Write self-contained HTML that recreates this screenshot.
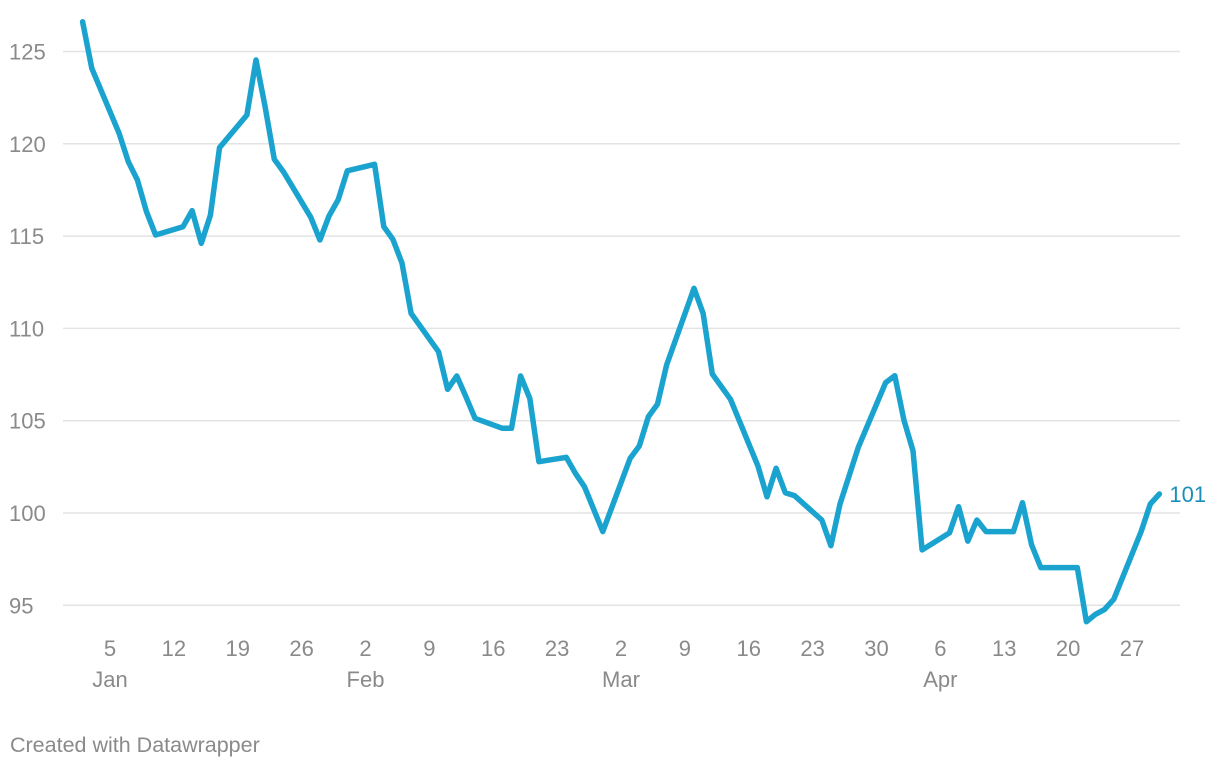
<!DOCTYPE html>
<html><head><meta charset="utf-8"><style>
body{margin:0;background:#fff;width:1220px;height:768px;overflow:hidden;font-family:"Liberation Sans",sans-serif}
svg{display:block}
</style></head><body>
<svg id="chart" width="1220" height="768" xmlns="http://www.w3.org/2000/svg">
<g id="grid"></g>
<g id="yaxis"></g>
<g id="xaxis"></g>
<g id="series"></g>
<text x="10" y="752" font-size="21.5" fill="#8a8a8a">Created with Datawrapper</text>
</svg>
<script>
// day index: days since Jan 1
const days = [1,2,5,6,7,8,9,12,13,14,15,16,19,20,21,22,23,26,27,28,29,30,33,34,35,36,37,40,41,42,43,44,47,48,49,50,51,54,55,56,58,61,62,63,64,65,68,69,70,72,75,76,77,78,79,82,83,84,86,89,90,91,92,93,96,97,98,99,100,103,104,105,106,110,111,112,113,114,117,118,119];
const values = [126.61,124.09,120.57,119.03,118.04,116.32,115.06,115.51,116.38,114.61,116.14,119.79,121.56,124.54,122.01,119.16,118.49,116.02,114.79,116.09,116.96,118.54,118.89,115.51,114.82,113.54,110.81,108.74,106.70,107.42,106.30,105.13,104.59,104.59,107.42,106.21,102.78,103.02,102.15,101.42,98.99,102.96,103.63,105.22,105.90,108.02,112.17,110.82,107.53,106.16,102.55,100.88,102.42,101.10,100.94,99.62,98.23,100.49,103.56,107.06,107.44,105.04,103.37,98.00,98.93,100.34,98.48,99.62,98.99,98.99,100.56,98.27,97.04,97.04,94.11,94.51,94.78,95.33,98.99,100.49,101.03];
const yTicks = [95,100,105,110,115,120,125];
const xTickDays = [4,11,18,25,32,39,46,53,60,67,74,81,88,95,102,109,116];
const xTickLabels = ["5","12","19","26","2","9","16","23","2","9","16","23","30","6","13","20","27"];
const monthDays = [4,32,60,95];
const monthLabels = ["Jan","Feb","Mar","Apr"];

const NS="http://www.w3.org/2000/svg";
const xs = d => 110 + (d-4)*9.125;
const ys = v => 513 - (v-100)*18.46;
function mk(tag, attrs, parent){const e=document.createElementNS(NS,tag);for(const k in attrs)e.setAttribute(k,attrs[k]);parent.appendChild(e);return e;}
const grid=document.getElementById('grid'), ya=document.getElementById('yaxis'), xa=document.getElementById('xaxis'), se=document.getElementById('series');
yTicks.forEach(t=>{
  const l=mk('line',{x1:63,x2:1180,y1:ys(t),y2:ys(t),stroke:'#e3e3e3','stroke-width':1.5},grid);
  
  
  const tx=mk('text',{x:9,y:ys(t)+8,'font-size':22,fill:'#8a8a8a'},ya);
  tx.textContent=t;
  
  
});
xTickDays.forEach((d,i)=>{
  const tx=mk('text',{x:xs(d),y:656,'font-size':22,fill:'#8a8a8a','text-anchor':'middle'},xa);
  tx.textContent=xTickLabels[i];
  
  
});
monthDays.forEach((d,i)=>{
  const tx=mk('text',{x:xs(d),y:687,'font-size':22,fill:'#8a8a8a','text-anchor':'middle'},xa);
  tx.textContent=monthLabels[i];
  
  
});
const pts=days.map((d,i)=>xs(d).toFixed(1)+','+ys(values[i]).toFixed(1)).join(' ');
const pl=mk('polyline',{points:pts,fill:'none',stroke:'#1ba3cf','stroke-width':5.5,'stroke-linejoin':'round','stroke-linecap':'round'},se);


const last=values.length-1;
const lab=mk('text',{x:xs(days[last])+10,y:ys(values[last])+8,'font-size':22,fill:'#1b8fba'},se);
lab.textContent=Math.round(values[last]);


</script>
</body></html>
